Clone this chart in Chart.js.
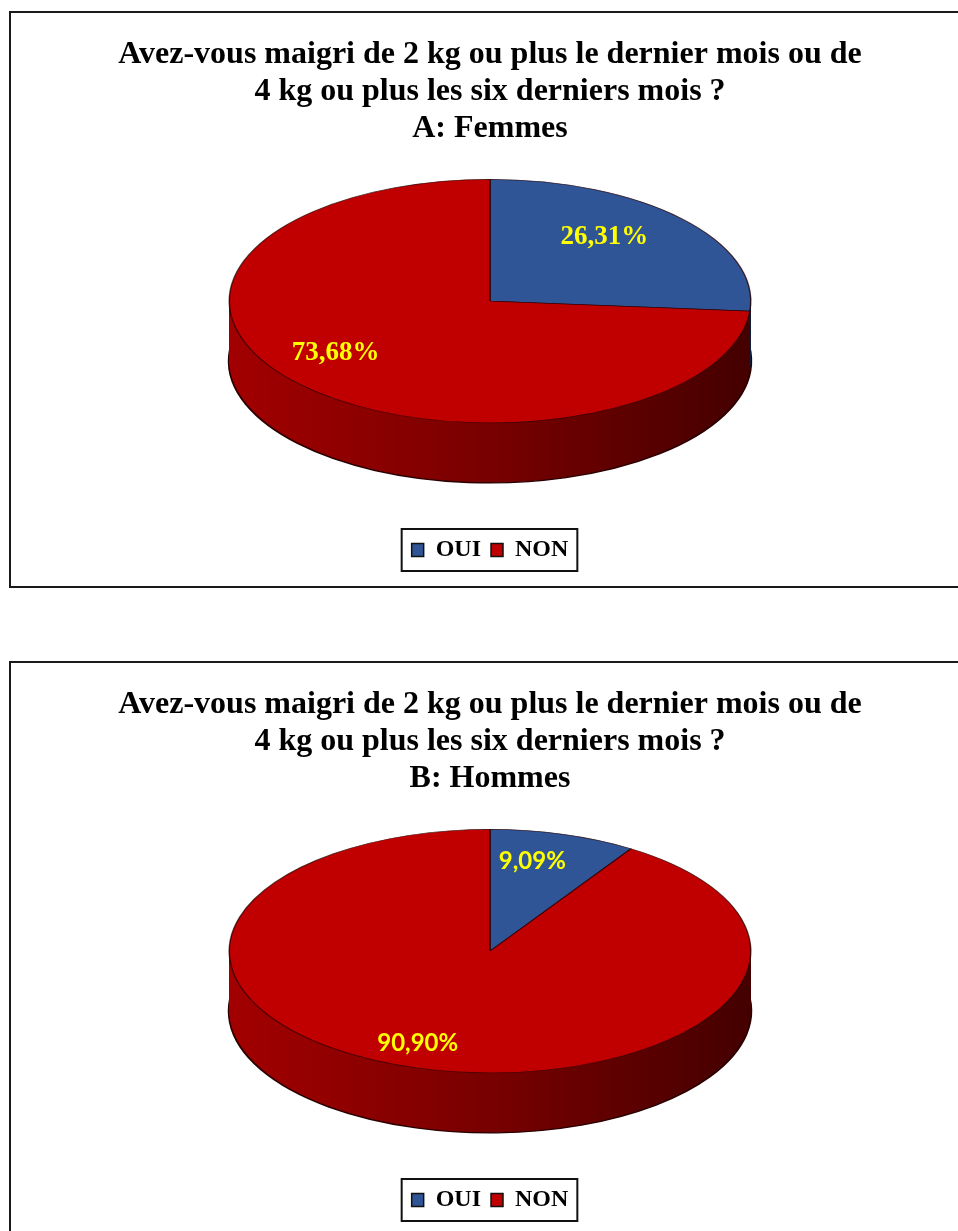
<!DOCTYPE html>
<html>
<head>
<meta charset="utf-8">
<script src="https://cdn.jsdelivr.net/npm/chart.js@4.4.0/dist/chart.umd.min.js"></script>
<style>
    html, body { margin: 0; padding: 0; background: #fff; overflow: hidden; width: 958px; height: 1231px; }
    .box { position: absolute; left: 9px; width: 958px; height: 573px; border: 2px solid #1a1a1a; background: #fff; }
    #box1 { top: 11px; }
    #box2 { top: 661px; }
</style>
</head>
<body>
<div class="box" id="box1"><canvas id="chartFemmes"></canvas></div>
<div class="box" id="box2"><canvas id="chartHommes"></canvas></div>
<script>
// data
const categories = ['OUI', 'NON'];
const femmesValues = [26.31, 73.68];
const hommesValues = [9.09, 90.90];
const titleLines = ['Avez-vous maigri de 2 kg ou plus le dernier mois ou de', '4 kg ou plus les six derniers mois ?'];
const femmesSubtitle = 'A: Femmes';
const hommesSubtitle = 'B: Hommes';

// styles
const sliceColors = ['#2f5597', '#c00000'];
const sideColors = [['#24457e', '#1a3260', '#0f1e3a'], ['#a20000', '#780000', '#440000']];

// draws the pie as a flattened disc with a side wall, using the arc elements of chart.js
const pie3d = {
    id: 'pie3d',
    beforeDatasetsDraw(chart, args, opts) {
        const arcs = chart.getDatasetMeta(0).data;
        if (!arcs.length) return;
        const ctx = chart.ctx;
        const area = chart.chartArea;
        const r = arcs[0].outerRadius;
        const ox = arcs[0].x, oy = arcs[0].y;
        const rx = r * opts.widthScale;
        const ry = rx * opts.tilt;
        const depth = Math.round(rx * opts.depth);
        const cx = ox;
        const cy = area.top + ry;

        const inEllipse = (off, fn) => {
            ctx.save();
            ctx.translate(cx, cy + off);
            ctx.scale(rx / r, ry / r);
            ctx.translate(-ox, -oy);
            fn();
            ctx.restore();
        };
        const drawWith = (arc, over) => {
            const saved = arc.options;
            arc.options = Object.assign({}, saved, over);
            arc.draw(ctx);
            arc.options = saved;
        };

        for (let off = depth; off > 0; off--) {
            inEllipse(off, () => {
                arcs.forEach((arc, i) => {
                    const g = ctx.createLinearGradient(ox - r, 0, ox + r, 0);
                    g.addColorStop(0, sideColors[i][0]);
                    g.addColorStop(0.5, sideColors[i][1]);
                    g.addColorStop(1, sideColors[i][2]);
                    if (off === depth) {
                        drawWith(arc, {backgroundColor: g, borderColor: '#2a0000', borderWidth: 2});
                    } else {
                        drawWith(arc, {backgroundColor: g, borderWidth: 0});
                    }
                });
            });
        }
        inEllipse(0, () => arcs.forEach(arc => arc.draw(ctx)));

        const values = chart.data.datasets[0].data;
        ctx.save();
        ctx.font = opts.labelFont;
        ctx.fillStyle = '#ffff00';
        ctx.textAlign = 'center';
        ctx.textBaseline = 'middle';
        arcs.forEach((arc, i) => {
            const mid = (arc.startAngle + arc.endAngle) / 2;
            const x = cx + Math.cos(mid) * rx * opts.labelRadius + opts.labelShift[0];
            const y = cy + Math.sin(mid) * ry * opts.labelRadius + opts.labelShift[1];
            ctx.fillText(values[i].toFixed(2).replace('.', ',') + '%', x, y);
        });
        ctx.restore();
        return false;
    }
};

// frame around the legend items
const legendFrame = {
    id: 'legendFrame',
    afterDraw(chart) {
        const lg = chart.legend;
        const boxes = lg.legendHitBoxes;
        if (!boxes || !boxes.length) return;
        const left = Math.min(...boxes.map(b => b.left)) - 10;
        const right = Math.max(...boxes.map(b => b.left + b.width)) + 9;
        const ctx = chart.ctx;
        ctx.save();
        ctx.strokeStyle = '#111';
        ctx.lineWidth = 2;
        ctx.strokeRect(left, lg.top + 1, right - left, lg.height - 2);
        ctx.restore();
    }
};

function makeChart(element, values, subtitle, labelFont, labelRadius, labelShift) {
    return new Chart(element, {
        type: 'pie',
        data: {
            labels: categories,
            datasets: [{
                data: values,
                backgroundColor: sliceColors,
                borderColor: 'rgba(40, 0, 0, 0.75)',
                borderWidth: 1
            }]
        },
        options: {
            responsive: true,
            maintainAspectRatio: false,
            animation: false,
            layout: { padding: { top: 0, bottom: 14, left: 0, right: 0 } },
            plugins: {
                title: {
                    display: true,
                    text: [...titleLines, subtitle],
                    color: '#000',
                    font: { family: 'Liberation Serif', size: 32, weight: 'bold', lineHeight: 1.16 },
                    padding: { top: 23, bottom: 32 }
                },
                legend: {
                    position: 'bottom',
                    labels: {
                        color: '#000',
                        boxWidth: 12,
                        boxHeight: 13,
                        padding: 10,
                        font: { family: 'Liberation Serif', size: 24, weight: 'bold' },
                        generateLabels: (c) => Chart.overrides.pie.plugins.legend.labels.generateLabels(c)
                            .map(l => Object.assign(l, { strokeStyle: '#111', lineWidth: 1.5 }))
                    }
                },
                tooltip: { enabled: false },
                pie3d: {
                    widthScale: 1.5, tilt: 0.467, depth: 0.232,
                    labelFont: labelFont, labelRadius: labelRadius, labelShift: labelShift
                }
            }
        },
        plugins: [pie3d, legendFrame]
    });
}

makeChart(document.getElementById('chartFemmes'), femmesValues, femmesSubtitle, 'bold 27px "Liberation Serif"', 0.7, [-20, -6]);
makeChart(document.getElementById('chartHommes'), hommesValues, hommesSubtitle, 'bold 24px Lato', 0.78, [-15, 1]);
</script>
</body>
</html>
